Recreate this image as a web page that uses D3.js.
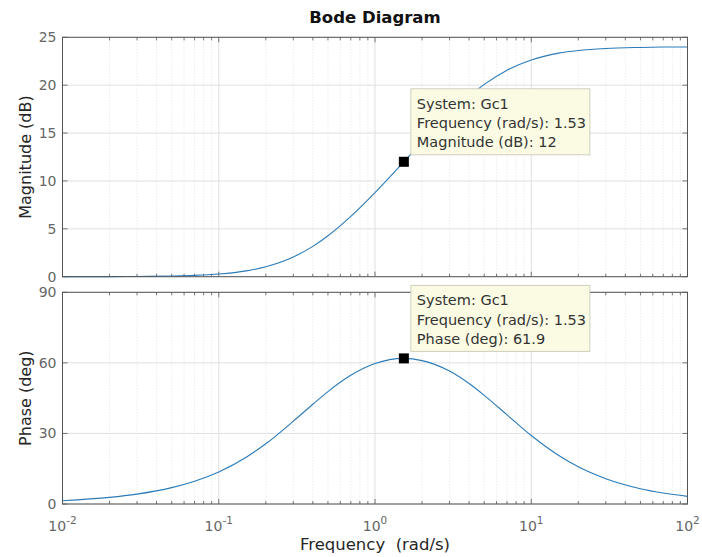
<!DOCTYPE html>
<html>
<head>
<meta charset="utf-8">
<script src="https://cdn.jsdelivr.net/npm/d3@7"></script>
<style>
  body { margin: 0; background: #fff; }
  svg { font-family: "DejaVu Sans", sans-serif; }
</style>
</head>
<body>
<div id="chart"></div>
<script>
// Bode diagram of Gc1

const freqs = [0.01, 0.02, 0.03, 0.05, 0.07, 0.1, 0.15, 0.2, 0.3, 0.4, 0.5, 0.7, 1, 1.53, 2, 3, 4, 5, 7, 10, 15, 20, 30, 50, 70, 100];
const magDb = [0.003, 0.012, 0.026, 0.073, 0.14, 0.28, 0.61, 1.04, 2.06, 3.17, 4.28, 6.30, 8.79, 12.0, 14.04, 16.85, 18.83, 20.08, 21.57, 22.64, 23.35, 23.62, 23.83, 23.94, 23.98, 23.99];
const phaseDeg = [1.4, 2.8, 4.2, 6.95, 9.7, 13.65, 19.9, 25.6, 35.2, 42.4, 47.8, 54.7, 59.7, 61.9, 60.95, 56.5, 51.2, 46.2, 37.9, 29.1, 20.6, 15.8, 10.75, 6.5, 4.66, 3.26];

const magTicks = [0, 5, 10, 15, 20, 25];
const phaseTicks = [0, 30, 60, 90];
const decadeTicks = [0.01, 0.1, 1, 10, 100];

const tipFreq = 1.53;
const tipMag = 12;
const tipPhase = 61.9;
const magTipLines = ["System: Gc1", "Frequency (rad/s): 1.53", "Magnitude (dB): 12"];
const phaseTipLines = ["System: Gc1", "Frequency (rad/s): 1.53", "Phase (deg): 61.9"];

const W = 702, H = 557;
const left = 62.5, right = 687.5;

const svg = d3.select("#chart").append("svg")
    .attr("width", W)
    .attr("height", H);

const x = d3.scaleLog().domain([0.01, 100]).range([left, right]);
const yMag = d3.scaleLinear().domain([0, 25]).range([276.7, 37.3]);
const yPh = d3.scaleLinear().domain([0, 90]).range([504, 292.3]);

// minor positions 2..9 per decade
const minorTicks = [];
[0.01, 0.1, 1, 10].forEach(d => {
    for (let k = 2; k <= 9; k++) minorTicks.push(d * k);
});

function drawPanel(y, ticks, values, tipVal, tipLines, label, showX) {
    const [y0, y1] = y.range(); // bottom, top
    const g = svg.append("g");

    // minor grid (dotted)
    g.selectAll(".minor").data(minorTicks).enter().append("line")
        .attr("x1", d => x(d)).attr("x2", d => x(d))
        .attr("y1", y1).attr("y2", y0)
        .attr("stroke", "#dcdcdc").attr("stroke-width", 0.8)
        .attr("stroke-dasharray", "1,2");

    // major grid
    g.selectAll(".majx").data(decadeTicks).enter().append("line")
        .attr("x1", d => x(d)).attr("x2", d => x(d))
        .attr("y1", y1).attr("y2", y0)
        .attr("stroke", "#e0e0e0").attr("stroke-width", 1);
    g.selectAll(".majy").data(ticks).enter().append("line")
        .attr("x1", left).attr("x2", right)
        .attr("y1", d => y(d)).attr("y2", d => y(d))
        .attr("stroke", "#e0e0e0").attr("stroke-width", 1);

    // inward ticks on all four sides
    const tk = g.append("g").attr("stroke", "#555").attr("stroke-width", 0.8);
    ticks.forEach(t => {
        tk.append("line").attr("x1", left).attr("x2", left + 5).attr("y1", y(t)).attr("y2", y(t));
        tk.append("line").attr("x1", right).attr("x2", right - 5).attr("y1", y(t)).attr("y2", y(t));
    });
    decadeTicks.forEach(t => {
        tk.append("line").attr("x1", x(t)).attr("x2", x(t)).attr("y1", y0).attr("y2", y0 - 5);
        tk.append("line").attr("x1", x(t)).attr("x2", x(t)).attr("y1", y1).attr("y2", y1 + 5);
    });
    minorTicks.forEach(t => {
        tk.append("line").attr("x1", x(t)).attr("x2", x(t)).attr("y1", y0).attr("y2", y0 - 3);
        tk.append("line").attr("x1", x(t)).attr("x2", x(t)).attr("y1", y1).attr("y2", y1 + 3);
    });

    // y tick labels
    g.selectAll(".ylab").data(ticks).enter().append("text")
        .attr("x", left - 6).attr("y", d => y(d) + 5)
        .attr("text-anchor", "end")
        .attr("font-size", 14).attr("fill", "#666")
        .text(d => d);

    // the curve
    const line = d3.line()
        .x(d => x(d[0]))
        .y(d => y(d[1]))
        .curve(d3.curveMonotoneX);
    g.append("path")
        .datum(freqs.map((f, i) => [f, values[i]]))
        .attr("d", line)
        .attr("fill", "none")
        .attr("stroke", "#2b7bb9")
        .attr("stroke-width", 1.1);

    // axes box
    g.append("rect")
        .attr("x", left).attr("y", y1)
        .attr("width", right - left).attr("height", y0 - y1)
        .attr("fill", "none").attr("stroke", "#555").attr("stroke-width", 1);

    // y axis label
    g.append("text")
        .attr("transform", `translate(31,${(y0 + y1) / 2}) rotate(-90)`)
        .attr("text-anchor", "middle")
        .attr("font-size", 16).attr("fill", "#262626")
        .text(label);

    if (showX) {
        const xl = g.selectAll(".xlab").data(decadeTicks).enter().append("text")
            .attr("x", d => x(d)).attr("y", y0 + 26.5)
            .attr("text-anchor", "middle")
            .attr("font-size", 14).attr("fill", "#666");
        xl.append("tspan").text("10");
        xl.append("tspan").attr("dy", -7).attr("font-size", 10.5)
            .text(d => String(Math.round(Math.log10(d))));
    }

    // datatip
    const mx = x(tipFreq), my = y(tipVal);
    g.append("rect")
        .attr("x", mx - 5).attr("y", my - 5)
        .attr("width", 10).attr("height", 10)
        .attr("fill", "#000");
    const bx = mx + 7, by = my - 73;
    g.append("rect")
        .attr("x", bx).attr("y", by)
        .attr("width", 179).attr("height", 66)
        .attr("fill", "#fbfbe3").attr("stroke", "#cfcfbf").attr("stroke-width", 1);
    g.selectAll(".tip").data(tipLines).enter().append("text")
        .attr("x", bx + 6).attr("y", (d, i) => by + 20 + i * 19.2)
        .attr("font-size", 14.5).attr("fill", "#333")
        .text(d => d);
}

drawPanel(yMag, magTicks, magDb, tipMag, magTipLines, "Magnitude (dB)", false);
drawPanel(yPh, phaseTicks, phaseDeg, tipPhase, phaseTipLines, "Phase (deg)", true);

svg.append("text")
    .attr("x", (left + right) / 2).attr("y", 23)
    .attr("text-anchor", "middle")
    .attr("font-size", 16.5).attr("font-weight", "bold").attr("fill", "#111")
    .text("Bode Diagram");

svg.append("text")
    .attr("x", (left + right) / 2).attr("y", 550)
    .attr("text-anchor", "middle")
    .attr("font-size", 16.5).attr("fill", "#262626")
    .style("white-space", "pre")
    .text("Frequency  (rad/s)");
</script>
</body>
</html>
